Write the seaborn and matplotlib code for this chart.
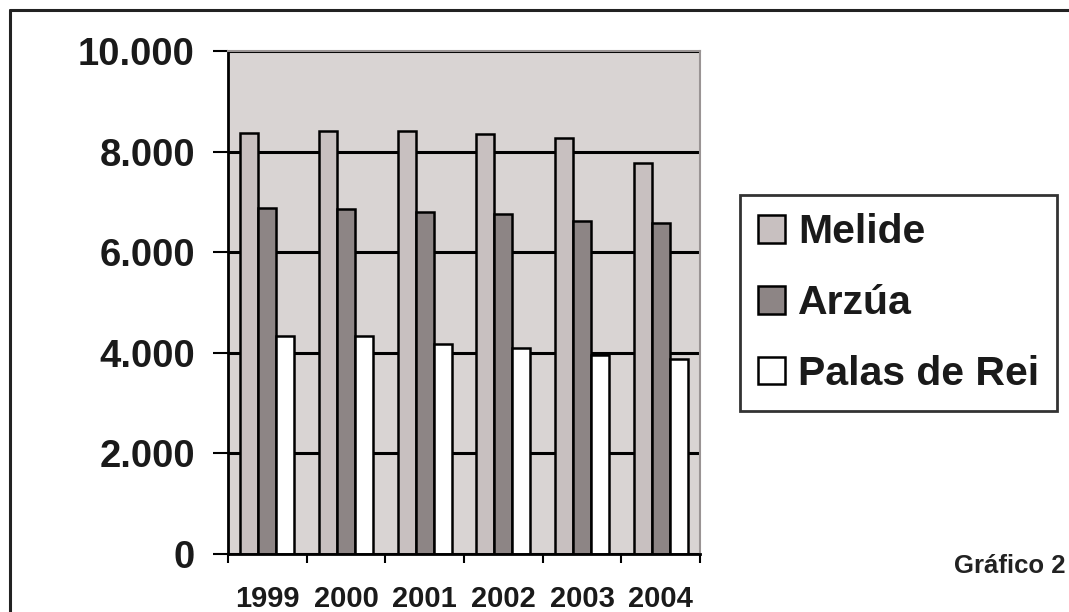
import pandas as pd
import numpy as np
import matplotlib
matplotlib.use("Agg")
import matplotlib.pyplot as plt
import seaborn as sns
from matplotlib.patches import Patch
from matplotlib.lines import Line2D

# ------------------------------------------------------------------------
# 1. Data
# ------------------------------------------------------------------------
years = ["1999", "2000", "2001", "2002", "2003", "2004"]
melide = [8370, 8410, 8410, 8350, 8280, 7770]
arzua = [6880, 6860, 6790, 6760, 6630, 6590]
palas = [4330, 4330, 4180, 4100, 3950, 3880]
series_names = ["Melide", "Arzúa", "Palas de Rei"]
series_colors = ["#c8c0c0", "#8d8585", "#ffffff"]
y_ticks = [0, 2000, 4000, 6000, 8000, 10000]
y_tick_labels = ["0", "2.000", "4.000", "6.000", "8.000", "10.000"]

df = pd.DataFrame({
    "year": years * 3,
    "value": melide + arzua + palas,
    "serie": [series_names[0]] * 6 + [series_names[1]] * 6 + [series_names[2]] * 6,
})

# ------------------------------------------------------------------------
# 2. Figure
# ------------------------------------------------------------------------
sns.set_style("white")
plt.rcParams["font.family"] = ["Liberation Sans", "DejaVu Sans"]
plt.rcParams["font.weight"] = "bold"

W, H = 1069, 612
fig = plt.figure(figsize=(W / 100, H / 100), dpi=100)
fig.patch.set_facecolor("white")
ax = fig.add_axes([228 / W, 1 - 554 / H, (700 - 228) / W, (554 - 51) / H])
ax.set_facecolor("#d9d4d3")

sns.barplot(data=df, x="year", y="value", hue="serie", hue_order=series_names,
            palette=series_colors, width=0.69, edgecolor="black", linewidth=1.8,
            saturation=1, ax=ax, legend=False, errorbar=None)

ax.set_ylim(0, 10000)
ax.set_yticks(y_ticks)
ax.set_yticklabels(y_tick_labels, fontsize=27.5, fontweight="bold", color="#1a1a1a")
ax.set_xlabel("")
ax.set_ylabel("")

ax.set_axisbelow(True)
ax.yaxis.grid(True, color="black", linewidth=2.2)
ax.xaxis.grid(False)

ax.tick_params(axis="y", direction="out", length=10.8, width=1.5, color="black", pad=13, left=True)
ax.tick_params(axis="x", which="major", length=0, pad=22.5, labelsize=21, labelcolor="#1a1a1a")
for lab in ax.get_xticklabels():
    lab.set_fontweight("bold")
ax.set_xticks(np.arange(-0.5, 6, 1.0), minor=True)
ax.tick_params(axis="x", which="minor", direction="out", length=6.5, width=1.5, color="black", bottom=True)

for side in ["left", "bottom"]:
    ax.spines[side].set_color("black")
    ax.spines[side].set_linewidth(2)
for side in ["top", "right"]:
    ax.spines[side].set_color("#9a9494")
    ax.spines[side].set_linewidth(1.5)

# legend
handles = [Patch(facecolor=c, edgecolor="black", linewidth=1.8) for c in series_colors]
leg = ax.legend(handles, series_names, loc="upper left",
                bbox_to_anchor=(740 / W, 1 - 195 / H), bbox_transform=fig.transFigure,
                frameon=True, fancybox=False, shadow=False,
                prop={"size": 29.5, "weight": "bold"},
                handlelength=0.66, handleheight=0.66, handletextpad=0.3,
                labelspacing=0.8, borderpad=0.45, borderaxespad=0)
leg.get_frame().set_edgecolor("black")
leg.get_frame().set_linewidth(2)
for t in leg.get_texts():
    t.set_color("#1a1a1a")

# caption and frame
fig.text(1065 / W, 1 - 566 / H, "Gráfico 2", ha="right", va="center",
         fontsize=18.5, fontweight="bold", color="#222222")
fig.add_artist(Line2D([9.5 / W, 9.5 / W], [0, 1 - 9.5 / H], transform=fig.transFigure,
                      color="#222222", linewidth=2.2))
fig.add_artist(Line2D([9.5 / W, 1], [1 - 9.5 / H, 1 - 9.5 / H], transform=fig.transFigure,
                      color="#222222", linewidth=2.2))

fig.savefig("out.png", dpi=100)
plt.close(fig)
